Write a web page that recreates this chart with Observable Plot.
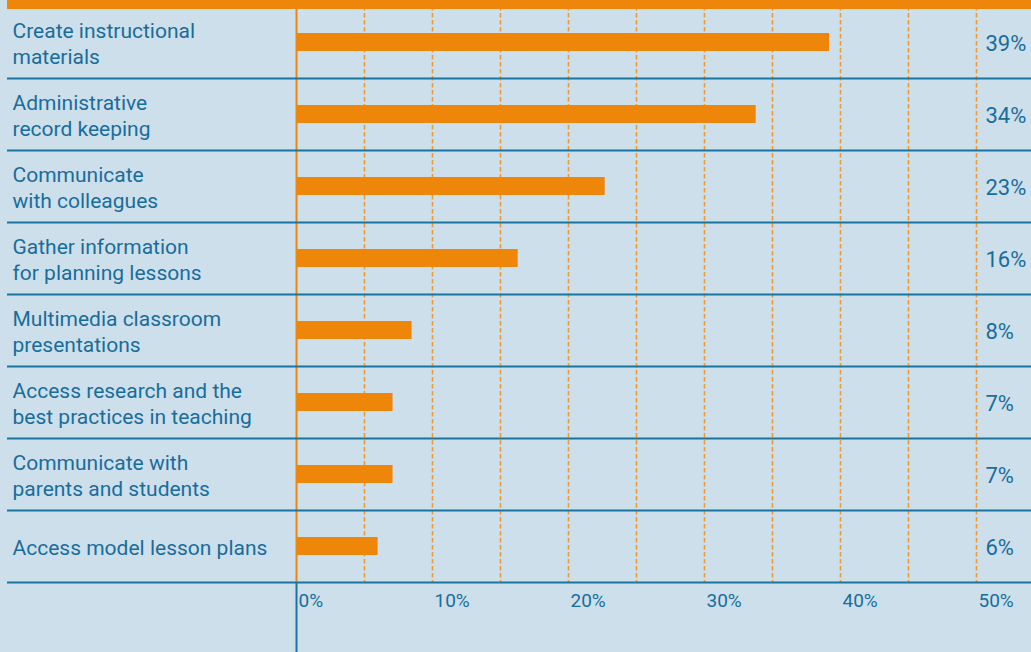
<!DOCTYPE html>
<html>
<head>
<meta charset="utf-8">
<script src="https://cdn.jsdelivr.net/npm/d3@7"></script>
<script src="https://cdn.jsdelivr.net/npm/@observablehq/plot@0.6"></script>
<style>
  html, body { margin: 0; padding: 0; background: #cedfec; }
  #wrap { position: relative; width: 1031px; height: 652px; overflow: hidden; }
  #topband { position: absolute; left: 7px; top: 0; width: 1024px; height: 9px; background: #ee8609; }
  svg { display: block; }
</style>
</head>
<body>
<div id="wrap"><div id="chart"></div><div id="topband"></div></div>
<script>
const categories = [
  "Create instructional\nmaterials",
  "Administrative\nrecord keeping",
  "Communicate\nwith colleagues",
  "Gather information\nfor planning lessons",
  "Multimedia classroom\npresentations",
  "Access research and the\nbest practices in teaching",
  "Communicate with\nparents and students",
  "Access model lesson plans"
];
const values = [39.2, 33.8, 22.7, 16.3, 8.5, 7.1, 7.1, 6.0];
const valueLabels = ["39%", "34%", "23%", "16%", "8%", "7%", "7%", "6%"];
const gridValues = [5, 10, 15, 20, 25, 30, 35, 40, 45, 50];
const tickValues = [0, 10, 20, 30, 40, 50];
const tickLabels = ["0%", "10%", "20%", "30%", "40%", "50%"];

const rows = categories.map((c, i) => ({category: c, value: values[i], label: valueLabels[i]}));
const ticks = tickValues.map((t, i) => ({t, label: tickLabels[i]}));

const textColor = "#186d9b";
const lineColor = "#1a74a0";
const orange = "#ee8609";

const chart = Plot.plot({
  width: 1031,
  height: 652,
  marginTop: 6,
  marginBottom: 70,
  marginLeft: 296,
  marginRight: 55,
  style: {background: "#cedfec", fontFamily: "Roboto, sans-serif"},
  x: {domain: [0, 50], axis: null},
  y: {domain: categories, padding: 0, axis: null},
  marks: [
    Plot.ruleX(gridValues, {stroke: "#f09a33", strokeWidth: 1.6, strokeDasharray: "4.5,2.5"}),
    Plot.barX(rows, {x: "value", y: "category", fill: orange, insetTop: 27, insetBottom: 27}),
    Plot.ruleX([0], {stroke: orange, strokeWidth: 2}),
    Plot.ruleX([0], {stroke: lineColor, strokeWidth: 2, insetTop: 576, insetBottom: -70}),
    Plot.ruleY(rows, {y: "category", dy: 36, stroke: lineColor, strokeWidth: 2, insetLeft: -289, insetRight: -55}),
    Plot.text(rows, {y: "category", text: "category", frameAnchor: "left", textAnchor: "start", dx: -284,
      fill: textColor, fontSize: 21, lineHeight: 1.24}),
    Plot.text(rows, {y: "category", text: "label", frameAnchor: "right", textAnchor: "start", dx: 9, dy: 1,
      fill: textColor, fontSize: 22}),
    Plot.text(ticks, {x: "t", text: "label", frameAnchor: "bottom", textAnchor: "start", dx: 2, dy: 24,
      fill: textColor, fontSize: 19})
  ]
});
document.getElementById("chart").append(chart);
</script>
</body>
</html>
